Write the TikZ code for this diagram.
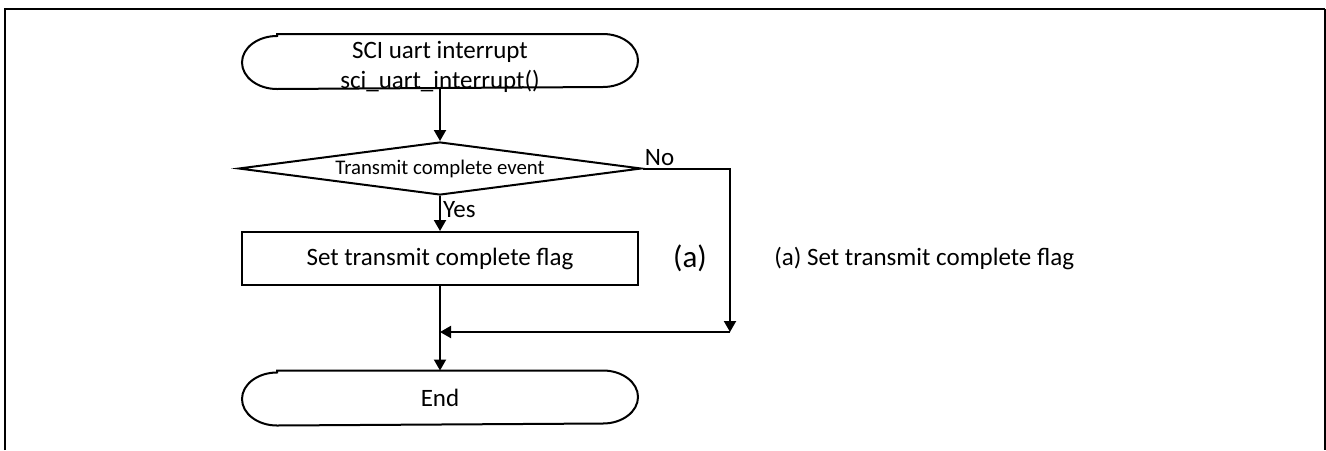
\documentclass[tikz,border=0pt]{standalone}
\usepackage{fontspec}
\setmainfont{Carlito}
\usetikzlibrary{arrows.meta,shapes.geometric}
\tikzset{box/.style={draw, line width=1pt, minimum width=198pt,
    minimum height=26.5pt, inner sep=0pt, align=center,
    font=\fontsize{12.5}{15}\selectfont},
  terminal/.style={box, draw=none},
  decision/.style={box, diamond, aspect=7.6, minimum width=201.5pt,
    font=\fontsize{10.4}{12}\selectfont},
  flow/.style={line width=1pt, -{Triangle[length=5.5pt, width=6pt]}},
  note/.style={font=\fontsize{12.5}{15}\selectfont, inner sep=1pt}}
\newcommand\stadium[1]{\draw[line width=1pt] ([xshift=-81.5pt]#1.north)
  -- ([xshift=81.5pt]#1.north)
  arc[start angle=90, end angle=-90, x radius=17.5pt, y radius=13.25pt]
  -- ([xshift=-81.5pt]#1.south)
  arc[start angle=270, end angle=90, x radius=17.5pt, y radius=13.25pt]
  -- cycle;}

\begin{document}
\begin{tikzpicture}[x=0.5pt, y=-0.5pt]
\useasboundingbox (0,0) rectangle (1326,450);
\draw[line width=1pt] (5,450) -- (5,9) -- (1325,9);
\draw[line width=0.6pt] (1325,9) -- (1325,450);
\node[terminal] (start) at (440,61.5) {};
\stadium{start}
\node[note, align=center] (starttext) at (440,66.5)
  {SCI uart interrupt\\sci\_uart\_interrupt()};
\node[decision] (cond) at (440,168.5) {Transmit complete event};
\node[box] (setflag) at (440,258.5) {Set transmit complete flag};
\node[terminal] (stop) at (440,398) {End};
\stadium{stop}
\coordinate (nocorner) at (730,168.5);
\coordinate (noturn) at (730,332);
\coordinate (merge) at (440,332);
\draw[flow] (start) -- (cond);
\draw[flow] (cond) -- node[note, pos=0.4, right] {Yes} (setflag);
\draw[flow] (setflag) -- (stop);
\draw[flow] (cond.east) -- (nocorner) -- (noturn);
\draw[flow] (noturn) -- (merge);
\node[note, anchor=south west] (nolabel) at (cond.east) {No};
\node[note, font=\fontsize{15.5}{18}\selectfont] (tag) at (690,258) {(a)};
\node[note, anchor=west] (legend) at (772,258)
  {(a) Set transmit complete flag};
\end{tikzpicture}
\end{document}
